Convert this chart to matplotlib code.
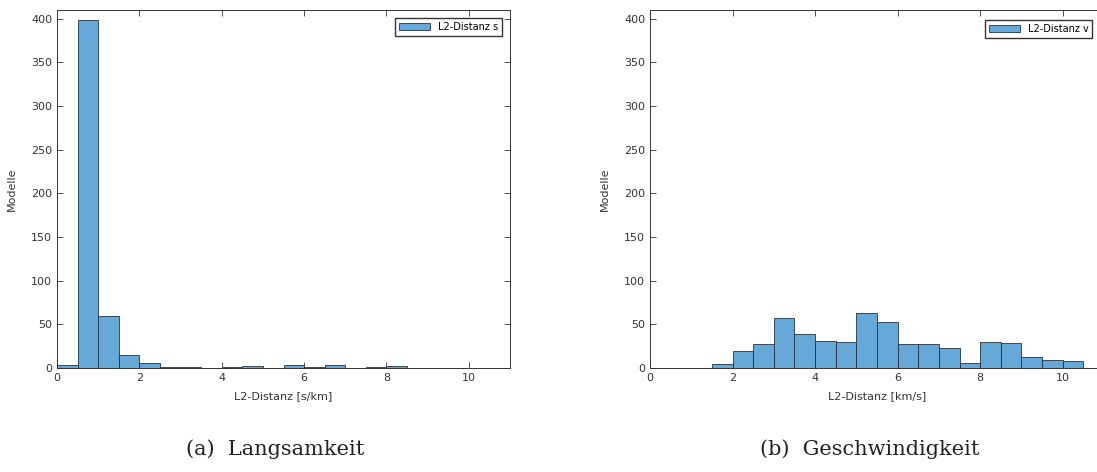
import numpy as np
import matplotlib.pyplot as plt

# Histogrammdaten, Klassenbreite 0.5
edges_s = np.arange(0.0, 8.51, 0.5)
counts_s = [4, 399, 60, 15, 6, 1, 1, 0, 1, 2, 0, 4, 1, 3, 0, 1, 2]

edges_v = np.arange(1.5, 10.51, 0.5)
counts_v = [5, 20, 28, 57, 39, 31, 30, 63, 53, 28, 28, 23, 6, 30, 29, 13, 9, 8]

xticks = [0, 2, 4, 6, 8, 10]
yticks = np.arange(0, 401, 50)

W, H = 1097, 472
fig = plt.figure(figsize=(W / 100, H / 100), dpi=100)

barcol = '#66a9d8'
edgecol = '#1f3347'


def style_axes(ax, xlabel):
    ax.set_xlim(0, 11)
    ax.set_ylim(0, 410)
    ax.set_xticks(xticks)
    ax.set_yticks(yticks)
    ax.tick_params(direction='in', top=True, right=True, labelsize=8,
                   labelcolor='#333333', length=4, width=0.6, color='#333333')
    for sp in ax.spines.values():
        sp.set_linewidth(0.7)
        sp.set_color('#333333')
    ax.set_xlabel(xlabel, fontsize=8, color='#333333', labelpad=6)
    ax.set_ylabel('Modelle', fontsize=8, color='#333333', labelpad=10)


# links: Langsamkeit
ax1 = fig.add_axes([57 / W, 1 - 368 / H, (510 - 57) / W, 358 / H])
ax1.bar(edges_s[:-1], counts_s, width=0.5, align='edge', color=barcol,
        edgecolor=edgecol, linewidth=0.6, label='L2-Distanz s')
style_axes(ax1, 'L2-Distanz [s/km]')
ax1.legend(loc='upper right', fontsize=7, fancybox=False, edgecolor='#333333',
           framealpha=1, handlelength=3.2, borderaxespad=0.8)

# rechts: Geschwindigkeit (rechter Rand abgeschnitten wie im Original)
ax2 = fig.add_axes([650 / W, 1 - 368 / H, (1104 - 650) / W, 358 / H])
ax2.bar(edges_v[:-1], counts_v, width=0.5, align='edge', color=barcol,
        edgecolor=edgecol, linewidth=0.6, label='L2-Distanz v')
style_axes(ax2, 'L2-Distanz [km/s]')
ax2.legend(loc='upper right', fontsize=7, fancybox=False, edgecolor='#333333',
           framealpha=1, handlelength=3.2, bbox_to_anchor=(0.985, 0.985))

fig.text(275 / W, 1 - 449 / H, '(a)  Langsamkeit', ha='center', va='center',
         fontsize=15, family='DejaVu Serif', color='#222222')
fig.text(870 / W, 1 - 449 / H, '(b)  Geschwindigkeit', ha='center', va='center',
         fontsize=15, family='DejaVu Serif', color='#222222')

fig.savefig('out.png', dpi=100)
